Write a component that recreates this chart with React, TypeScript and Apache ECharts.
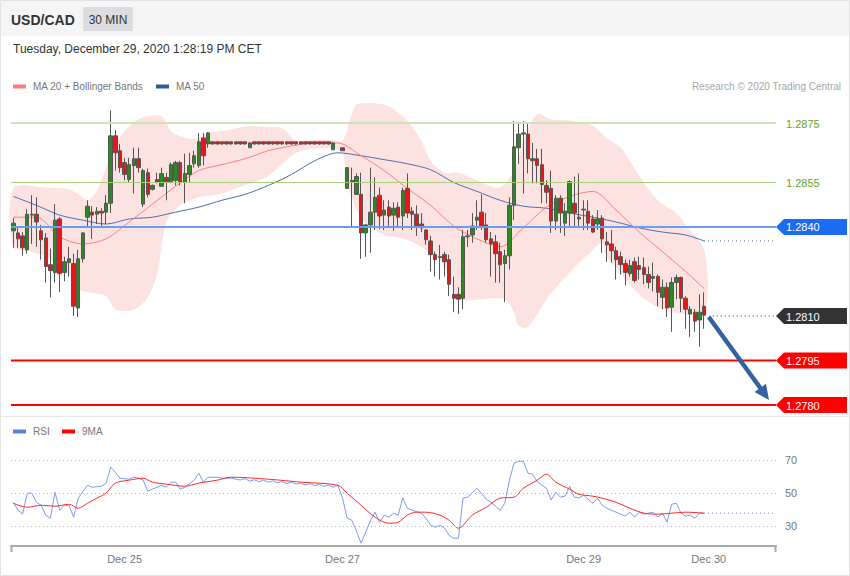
import React, { useEffect, useRef } from 'react';
import * as echarts from 'echarts';

const FONT = '"Liberation Sans", Arial, Helvetica, sans-serif';
const SLOT_COUNT = 165;
const slots = Array.from({ length: SLOT_COUNT }, (_, i) => String(i));

// Tick labels on the time axis: [slot index, text]
const dayLabels: [number, string][] = [
  [24, 'Dec 25'],
  [71, 'Dec 27'],
  [123, 'Dec 29'],
  [150, 'Dec 30'],
];

// 30 min candles: [open, close, low, high]
const candles: (number | string)[][] = [
  [1.28387, 1.28413, 1.28330, 1.28430],
  [1.28380, 1.28360, 1.28330, 1.28397],
  [1.28370, 1.28330, 1.28303, 1.28383],
  [1.28323, 1.28443, 1.28310, 1.28460],
  [1.28443, 1.28440, 1.28343, 1.28507],
  [1.28443, 1.28417, 1.28333, 1.28500],
  [1.28387, 1.28357, 1.28290, 1.28407],
  [1.28363, 1.28267, 1.28213, 1.28380],
  [1.28273, 1.28253, 1.28163, 1.28327],
  [1.28247, 1.28423, 1.28213, 1.28477],
  [1.28427, 1.28243, 1.28180, 1.28433],
  [1.28247, 1.28283, 1.28217, 1.28300],
  [1.28280, 1.28293, 1.28233, 1.28333],
  [1.28277, 1.28133, 1.28100, 1.28310],
  [1.28127, 1.28293, 1.28097, 1.28323],
  [1.28293, 1.28380, 1.28280, 1.28383],
  [1.28433, 1.28470, 1.28403, 1.28490],
  [1.28450, 1.28440, 1.28360, 1.28470],
  [1.28443, 1.28453, 1.28410, 1.28467],
  [1.28453, 1.28447, 1.28403, 1.28463],
  [1.28450, 1.28480, 1.28410, 1.28507],
  [1.28480, 1.28707, 1.28447, 1.28793],
  [1.28707, 1.28650, 1.28590, 1.28727],
  [1.28657, 1.28600, 1.28583, 1.28680],
  [1.28617, 1.28577, 1.28557, 1.28633],
  [1.28560, 1.28610, 1.28550, 1.28633],
  [1.28607, 1.28630, 1.28513, 1.28667],
  [1.28630, 1.28600, 1.28583, 1.28667],
  [1.28477, 1.28590, 1.28467, 1.28597],
  [1.28583, 1.28510, 1.28500, 1.28597],
  [1.28527, 1.28540, 1.28523, 1.28543],
  [1.28560, 1.28550, 1.28547, 1.28583],
  [1.28537, 1.28580, 1.28537, 1.28600],
  [1.28567, 1.28550, 1.28490, 1.28583],
  [1.28550, 1.28610, 1.28547, 1.28617],
  [1.28557, 1.28617, 1.28540, 1.28623],
  [1.28617, 1.28550, 1.28540, 1.28623],
  [1.28550, 1.28580, 1.28480, 1.28647],
  [1.28577, 1.28607, 1.28550, 1.28650],
  [1.28613, 1.28640, 1.28600, 1.28657],
  [1.28607, 1.28687, 1.28600, 1.28717],
  [1.28700, 1.28640, 1.28607, 1.28717],
  [1.28680, 1.28717, 1.28667, 1.28720],
  [1.28687, 1.28680, 1.28677, 1.28687],
  [1.28687, 1.28680, 1.28677, 1.28687],
  [1.28687, 1.28680, 1.28677, 1.28687],
  [1.28687, 1.28680, 1.28677, 1.28687],
  [1.28687, 1.28680, 1.28677, 1.28687],
  [1.28687, 1.28680, 1.28677, 1.28687],
  [1.28687, 1.28680, 1.28677, 1.28687],
  [1.28687, 1.28680, 1.28677, 1.28687],
  [1.28667, 1.28683, 1.28667, 1.28687],
  [1.28687, 1.28680, 1.28677, 1.28687],
  [1.28687, 1.28680, 1.28677, 1.28687],
  [1.28687, 1.28680, 1.28677, 1.28687],
  [1.28687, 1.28680, 1.28677, 1.28687],
  [1.28687, 1.28680, 1.28677, 1.28687],
  [1.28687, 1.28680, 1.28677, 1.28687],
  [1.28687, 1.28680, 1.28677, 1.28687],
  [1.28687, 1.28680, 1.28677, 1.28687],
  [1.28687, 1.28680, 1.28677, 1.28687],
  [1.28687, 1.28680, 1.28677, 1.28687],
  [1.28687, 1.28680, 1.28677, 1.28687],
  [1.28687, 1.28680, 1.28677, 1.28687],
  [1.28687, 1.28680, 1.28677, 1.28687],
  [1.28687, 1.28680, 1.28677, 1.28687],
  [1.28687, 1.28680, 1.28677, 1.28687],
  [1.28687, 1.28680, 1.28677, 1.28687],
  [1.28687, 1.28680, 1.28677, 1.28687],
  [1.28660, 1.28683, 1.28660, 1.28687],
  ['-', '-', '-', '-'],
  [1.28667, 1.28657, 1.28657, 1.28667],
  [1.28530, 1.28600, 1.28530, 1.28600],
  [1.28550, 1.28557, 1.28400, 1.28600],
  [1.28510, 1.28570, 1.28507, 1.28580],
  [1.28510, 1.28380, 1.28293, 1.28583],
  [1.28380, 1.28407, 1.28300, 1.28410],
  [1.28407, 1.28450, 1.28313, 1.28600],
  [1.28450, 1.28500, 1.28390, 1.28567],
  [1.28507, 1.28437, 1.28393, 1.28533],
  [1.28440, 1.28457, 1.28390, 1.28490],
  [1.28467, 1.28437, 1.28400, 1.28490],
  [1.28440, 1.28463, 1.28387, 1.28483],
  [1.28467, 1.28433, 1.28397, 1.28483],
  [1.28437, 1.28523, 1.28390, 1.28533],
  [1.28530, 1.28447, 1.28430, 1.28580],
  [1.28453, 1.28443, 1.28390, 1.28467],
  [1.28443, 1.28403, 1.28370, 1.28473],
  [1.28410, 1.28397, 1.28383, 1.28447],
  [1.28390, 1.28357, 1.28340, 1.28393],
  [1.28353, 1.28307, 1.28250, 1.28370],
  [1.28307, 1.28290, 1.28233, 1.28317],
  [1.28300, 1.28297, 1.28223, 1.28340],
  [1.28307, 1.28283, 1.28233, 1.28317],
  [1.28290, 1.28207, 1.28167, 1.28307],
  [1.28173, 1.28160, 1.28113, 1.28233],
  [1.28173, 1.28157, 1.28107, 1.28197],
  [1.28160, 1.28367, 1.28123, 1.28390],
  [1.28367, 1.28370, 1.28333, 1.28390],
  [1.28373, 1.28403, 1.28347, 1.28447],
  [1.28423, 1.28433, 1.28390, 1.28490],
  [1.28450, 1.28403, 1.28390, 1.28510],
  [1.28407, 1.28357, 1.28347, 1.28447],
  [1.28360, 1.28343, 1.28233, 1.28383],
  [1.28350, 1.28310, 1.28213, 1.28373],
  [1.28317, 1.28273, 1.28213, 1.28347],
  [1.28277, 1.28303, 1.28147, 1.28323],
  [1.28303, 1.28473, 1.28257, 1.28500],
  [1.28473, 1.28670, 1.28423, 1.28757],
  [1.28667, 1.28713, 1.28613, 1.28753],
  [1.28717, 1.28713, 1.28513, 1.28757],
  [1.28713, 1.28630, 1.28580, 1.28750],
  [1.28630, 1.28623, 1.28547, 1.28683],
  [1.28630, 1.28607, 1.28547, 1.28663],
  [1.28610, 1.28543, 1.28480, 1.28663],
  [1.28540, 1.28517, 1.28480, 1.28557],
  [1.28530, 1.28420, 1.28380, 1.28590],
  [1.28420, 1.28497, 1.28390, 1.28507],
  [1.28497, 1.28447, 1.28380, 1.28507],
  [1.28413, 1.28453, 1.28370, 1.28480],
  [1.28447, 1.28553, 1.28400, 1.28557],
  [1.28480, 1.28447, 1.28400, 1.28570],
  [1.28433, 1.28427, 1.28397, 1.28580],
  [1.28460, 1.28457, 1.28390, 1.28490],
  [1.28453, 1.28413, 1.28390, 1.28490],
  [1.28427, 1.28383, 1.28380, 1.28440],
  [1.28410, 1.28427, 1.28390, 1.28457],
  [1.28430, 1.28360, 1.28313, 1.28440],
  [1.28350, 1.28340, 1.28283, 1.28383],
  [1.28343, 1.28320, 1.28280, 1.28390],
  [1.28320, 1.28290, 1.28223, 1.28333],
  [1.28300, 1.28273, 1.28240, 1.28317],
  [1.28277, 1.28247, 1.28203, 1.28290],
  [1.28243, 1.28270, 1.28233, 1.28290],
  [1.28283, 1.28220, 1.28213, 1.28297],
  [1.28270, 1.28257, 1.28223, 1.28300],
  [1.28263, 1.28240, 1.28207, 1.28297],
  [1.28240, 1.28213, 1.28193, 1.28267],
  [1.28227, 1.28233, 1.28183, 1.28280],
  [1.28233, 1.28180, 1.28133, 1.28240],
  [1.28163, 1.28197, 1.28123, 1.28223],
  [1.28197, 1.28127, 1.28097, 1.28213],
  [1.28130, 1.28213, 1.28047, 1.28230],
  [1.28213, 1.28230, 1.28157, 1.28240],
  [1.28230, 1.28160, 1.28113, 1.28233],
  [1.28160, 1.28123, 1.28057, 1.28167],
  [1.28107, 1.28123, 1.28030, 1.28133],
  [1.28113, 1.28083, 1.28047, 1.28123],
  [1.28087, 1.28113, 1.27997, 1.28173],
  [1.28133, 1.28103, 1.28057, 1.28180],
];

// MA 50 (slot index, value)
const ma50: [number, number][] = [
  [0, 1.28503], [5, 1.28473], [10, 1.28440], [15, 1.28423], [20, 1.28410], [25, 1.28427],
  [30, 1.28433], [35, 1.28450], [40, 1.28467], [45, 1.28490], [50, 1.28510], [55, 1.28540],
  [60, 1.28577], [65, 1.28623], [70, 1.28650], [75, 1.28640], [80, 1.28627], [85, 1.28613],
  [90, 1.28593], [95, 1.28550], [100, 1.28520], [105, 1.28490], [110, 1.28470], [115, 1.28463],
  [120, 1.28447], [125, 1.28433], [130, 1.28417], [135, 1.28397], [140, 1.28383], [145, 1.28373],
  [149, 1.28353],
];

// MA 20 (slot index, value)
const ma20: [number, number][] = [
  [0, 1.28433], [5, 1.28433], [10, 1.28367], [15, 1.28343], [20, 1.28360], [25, 1.28417],
  [30, 1.28477], [35, 1.28537], [40, 1.28590], [45, 1.28610], [50, 1.28630], [55, 1.28657],
  [60, 1.28673], [65, 1.28683], [70, 1.28683], [75, 1.28640], [80, 1.28590], [85, 1.28530],
  [90, 1.28473], [95, 1.28403], [100, 1.28360], [105, 1.28333], [110, 1.28397], [115, 1.28467],
  [120, 1.28503], [125, 1.28520], [130, 1.28457], [135, 1.28383], [140, 1.28317], [145, 1.28250],
  [149, 1.28193],
];

// Bollinger bands (slot index, value)
const bandUpper: [number, number][] = [
  [0, 1.28530], [7, 1.28533], [12, 1.28527], [14, 1.28510], [16, 1.28490], [18, 1.28523],
  [20, 1.28600], [22, 1.28673], [24, 1.28723], [27, 1.28763], [29, 1.28773], [32, 1.28773],
  [34, 1.28723], [37, 1.28700], [40, 1.28700], [42, 1.28717], [45, 1.28723], [48, 1.28733],
  [51, 1.28740], [55, 1.28737], [58, 1.28733], [61, 1.28690], [65, 1.28693], [69, 1.28693],
  [71, 1.28690], [73, 1.28780], [74, 1.28813], [76, 1.28817], [78, 1.28817], [81, 1.28807],
  [85, 1.28757], [88, 1.28690], [90, 1.28623], [93, 1.28583], [96, 1.28583], [101, 1.28550],
  [105, 1.28533], [108, 1.28590], [110, 1.28690], [113, 1.28780], [116, 1.28763], [121, 1.28757],
  [125, 1.28740], [128, 1.28700], [131, 1.28667], [135, 1.28573], [139, 1.28490], [143, 1.28447],
  [145, 1.28407], [149, 1.28323],
];
const bandLower: [number, number][] = [
  [0, 1.28333], [4, 1.28317], [7, 1.28300], [12, 1.28240], [14, 1.28190], [16, 1.28180],
  [20, 1.28167], [22, 1.28123], [25, 1.28117], [27, 1.28130], [29, 1.28163], [31, 1.28240],
  [33, 1.28417], [36, 1.28473], [40, 1.28500], [45, 1.28513], [48, 1.28530], [55, 1.28573],
  [60, 1.28640], [63, 1.28660], [69, 1.28663], [71, 1.28650], [72, 1.28547], [75, 1.28430],
  [79, 1.28380], [85, 1.28357], [88, 1.28333], [92, 1.28290], [94, 1.28233], [96, 1.28157],
  [101, 1.28157], [106, 1.28157], [108, 1.28113], [109, 1.28067], [111, 1.28063], [115, 1.28157],
  [118, 1.28213], [121, 1.28263], [124, 1.28307], [127, 1.28347], [128, 1.28300], [130, 1.28263],
  [135, 1.28173], [139, 1.28130], [142, 1.28113], [149, 1.28113],
];

// RSI (slot index, value)
const rsi: [number, number][] = [
  [0, 44.4], [1, 39.7], [2, 37.3], [3, 50], [4, 50], [5, 44.5], [6, 42.7], [7, 36.7], [8, 34.8],
  [9, 50.6], [10, 39.7], [11, 42.7], [12, 42.7], [13, 35.5], [14, 47], [16, 54.8], [17, 53.6],
  [19, 54.2], [20, 56], [21, 65.8], [22, 62.7], [23, 59.1], [25, 58.5], [26, 59.7], [27, 59.1],
  [28, 57.9], [29, 51.2], [31, 53.6], [32, 54.8], [33, 53.6], [34, 56.7], [35, 56.7], [36, 52.4],
  [37, 53.6], [39, 57.9], [40, 62.1], [41, 56.7], [42, 59.7], [44, 59.7], [45, 59.1], [47, 59.1],
  [48, 58.5], [49, 58.0], [50, 58.8], [51, 57.3], [52, 58.1], [53, 57.0], [54, 57.8], [55, 56.7],
  [56, 57.5], [57, 56.3], [58, 57.0], [59, 55.9], [60, 56.6], [61, 55.5], [62, 56.2], [63, 55.0],
  [64, 55.8], [65, 54.6], [66, 55.4], [67, 54.2], [68, 55.0], [69, 53.6], [70, 54.8], [71, 47],
  [72, 35], [73, 33.6], [74, 27], [75, 19.7], [76, 26.4], [77, 33], [78, 38.5], [79, 32.4],
  [80, 36.7], [81, 35.5], [82, 37.9], [83, 36.7], [84, 47], [85, 40.9], [86, 39.7], [88, 37.9],
  [89, 34.8], [90, 30.6], [91, 29.4], [92, 30.6], [93, 28.8], [94, 24.5], [95, 22.7], [96, 22.7],
  [97, 47], [98, 47.6], [100, 53], [102, 46.4], [103, 44.5], [105, 39.7], [106, 43.9], [107, 57.9],
  [108, 68.2], [109, 69.4], [110, 69.4], [111, 62.1], [112, 61.5], [113, 57], [114, 54.8], [115, 53],
  [116, 45.8], [117, 50.6], [118, 47.6], [119, 48.2], [120, 54.2], [121, 47.6], [122, 47], [123, 48.8],
  [125, 43.9], [126, 47], [127, 42.7], [128, 40.9], [130, 38.5], [132, 36.1], [133, 38.5], [134, 35.5],
  [135, 38.5], [136, 37.3], [138, 38.5], [139, 35.5], [140, 37.9], [141, 32.4], [142, 43.3], [143, 43.9],
  [144, 37.9], [145, 36.1], [146, 36.7], [147, 34.8], [148, 37.9], [149, 37.9],
];

// RSI 9MA (slot index, value)
const rsiMa: [number, number][] = [
  [0, 43.9], [3, 41.5], [6, 42.7], [9, 42.1], [12, 43.3], [14, 40.9], [16, 43.9], [18, 47],
  [20, 50], [22, 56.1], [25, 57.9], [28, 59.1], [30, 56.7], [33, 55.5], [37, 54.2], [40, 56.1],
  [44, 57.9], [47, 59.7], [55, 58.5], [62, 56.7], [70, 54.8], [72, 50], [75, 42.7], [78, 35.5],
  [81, 31.8], [83, 32.4], [85, 36.7], [87, 38.5], [89, 38.5], [92, 36.7], [94, 33.6], [96, 28.8],
  [99, 36.7], [102, 41.5], [105, 47], [108, 47.6], [110, 53], [113, 57.9], [115, 61.5], [117, 56.7],
  [120, 52.4], [122, 49.4], [125, 48.2], [127, 47], [130, 44.5], [133, 40.9], [136, 37.9], [139, 37.3],
  [142, 37.9], [145, 38.5], [149, 37.9],
];

// Key levels
const resistanceLevels = [1.2875, 1.2855];
const pivotLevel = 1.284;
const lastPrice = 1.2810;
const supportLevels = [1.2795, 1.278];
const rsiLevels = [70, 50, 30];
const arrowFrom: [number, number] = [150, 1.28097];
const arrowTo: [number, number] = [163, 1.27817];

const LAST_SLOT = 149;
const END_SLOT = SLOT_COUNT - 1;
const PLOT_LEFT = 11;
const PLOT_RIGHT = 776;

export default function App() {
  const ref = useRef<HTMLDivElement>(null);

  useEffect(() => {
    if (!ref.current) return;
    const chart = echarts.init(ref.current, null, { renderer: 'svg' });
    const labelMap: Record<number, string> = {};
    dayLabels.forEach(([i, t]) => (labelMap[i] = t));

    const option: any = {
      animation: false,
      backgroundColor: '#ffffff',
      textStyle: { fontFamily: FONT },
      grid: [
        { left: PLOT_LEFT, width: PLOT_RIGHT - PLOT_LEFT, top: 100, height: 315 },
        { left: PLOT_LEFT, width: PLOT_RIGHT - PLOT_LEFT, top: 443.7, height: 102.3 },
      ],
      xAxis: [
        { type: 'category', gridIndex: 0, data: slots, boundaryGap: true, show: false },
        {
          type: 'category',
          gridIndex: 1,
          data: slots,
          boundaryGap: true,
          axisLine: { show: true, lineStyle: { color: '#a9a9a9', width: 2 } },
          axisTick: { show: false },
          splitLine: { show: false },
          axisLabel: {
            interval: (i: number) => labelMap[i] !== undefined,
            formatter: (_v: string, i: number) => labelMap[i] || '',
            color: '#777',
            fontSize: 11,
            margin: 7,
            fontFamily: FONT,
          },
        },
      ],
      yAxis: [
        { type: 'value', gridIndex: 0, min: 1.277667, max: 1.288278, show: false },
        { type: 'value', gridIndex: 1, min: 18, max: 80, show: false },
      ],
      series: [
        {
          type: 'custom',
          name: 'bands',
          xAxisIndex: 0,
          yAxisIndex: 0,
          z: 1,
          silent: true,
          data: [0],
          renderItem: (_p: any, api: any) => {
            const pts: number[][] = [];
            bandUpper.forEach(([i, v]) => pts.push(api.coord([i, v])));
            [...bandLower].reverse().forEach(([i, v]) => pts.push(api.coord([i, v])));
            return {
              type: 'polygon',
              shape: { points: pts, smooth: 0.3 },
              style: { fill: '#fde2e2' },
            };
          },
        },
        {
          type: 'line',
          name: 'MA 50',
          xAxisIndex: 0,
          yAxisIndex: 0,
          data: ma50,
          smooth: 0.3,
          symbol: 'none',
          z: 2,
          lineStyle: { color: '#4e6fa8', width: 1 },
        },
        {
          type: 'line',
          name: 'MA 20',
          xAxisIndex: 0,
          yAxisIndex: 0,
          data: ma20,
          smooth: 0.3,
          symbol: 'none',
          z: 2,
          lineStyle: { color: '#ff7d7d', width: 1 },
        },
        {
          type: 'candlestick',
          name: 'USD/CAD',
          xAxisIndex: 0,
          yAxisIndex: 0,
          data: candles,
          barWidth: 4,
          z: 3,
          itemStyle: {
            color: '#2a8a1f',
            color0: '#ec1515',
            borderColor: '#555555',
            borderColor0: '#555555',
            borderWidth: 1,
          },
        },
        {
          type: 'line',
          name: 'ma50-ext',
          xAxisIndex: 0,
          yAxisIndex: 0,
          data: [
            [LAST_SLOT, ma50[ma50.length - 1][1]],
            [END_SLOT, ma50[ma50.length - 1][1]],
          ],
          symbol: 'none',
          z: 4,
          lineStyle: { color: '#3c5a94', width: 1, type: [1, 3] },
        },
        {
          type: 'line',
          name: 'last-ext',
          xAxisIndex: 0,
          yAxisIndex: 0,
          data: [
            [LAST_SLOT + 1, lastPrice],
            [END_SLOT, lastPrice],
          ],
          symbol: 'none',
          z: 5,
          lineStyle: { color: '#333333', width: 1, type: [1, 3] },
        },
        {
          type: 'line',
          name: 'RSI',
          xAxisIndex: 1,
          yAxisIndex: 1,
          data: rsi,
          symbol: 'none',
          z: 3,
          lineStyle: { color: '#7d9bef', width: 1 },
          markLine: {
            silent: true,
            symbol: ['none', 'none'],
            lineStyle: { color: '#b5b5b5', width: 1, type: [1, 3] },
            label: { show: true, position: 'end', distance: 9, formatter: '{c}', color: '#777', fontSize: 11, fontFamily: FONT },
            data: rsiLevels.map((v) => ({ yAxis: v })),
          },
        },
        {
          type: 'line',
          name: 'rsi-ext',
          xAxisIndex: 1,
          yAxisIndex: 1,
          data: [
            [LAST_SLOT, rsi[rsi.length - 1][1]],
            [END_SLOT, rsi[rsi.length - 1][1]],
          ],
          symbol: 'none',
          z: 3,
          lineStyle: { color: '#5b7de0', width: 1, type: [1, 3] },
        },
        {
          type: 'line',
          name: '9MA',
          xAxisIndex: 1,
          yAxisIndex: 1,
          data: rsiMa,
          smooth: 0.3,
          symbol: 'none',
          z: 4,
          lineStyle: { color: '#ff2a2a', width: 1 },
        },
      ],
    };

    chart.setOption(option);

    const txt = (x: number, y: number, text: string, size: number, fill: string, opts: any = {}) => ({
      type: 'text',
      x,
      y,
      z: 100,
      silent: true,
      style: {
        text,
        fill,
        font: `${opts.weight || 'normal'} ${size}px ${FONT}`,
        textAlign: opts.align || 'left',
        align: opts.align || 'left',
        textVerticalAlign: 'middle',
        verticalAlign: 'middle',
      },
    });

    const graphics: any[] = [
      { type: 'rect', z: 0, silent: true, shape: { x: 0.5, y: 0.5, width: 849, height: 575 }, style: { fill: 'none', stroke: '#e2e2e2', lineWidth: 1 } },
      { type: 'rect', z: 0, silent: true, shape: { x: 1, y: 1, width: 848, height: 35 }, style: { fill: '#f5f5f5' } },
      txt(11, 19.5, 'USD/CAD', 14, '#333333', { weight: 'bold' }),
      { type: 'rect', z: 1, silent: true, shape: { x: 83, y: 7, width: 50, height: 24 }, style: { fill: '#dcdde1' } },
      txt(108, 19.5, '30 MIN', 12, '#333333', { align: 'center' }),
      txt(13, 49, 'Tuesday, December 29, 2020 1:28:19 PM CET', 12, '#333333'),
      { type: 'rect', z: 1, silent: true, shape: { x: 13, y: 84.5, width: 13, height: 4 }, style: { fill: '#ff7b7b' } },
      txt(33, 86.5, 'MA 20 + Bollinger Bands', 10, '#777777'),
      { type: 'rect', z: 1, silent: true, shape: { x: 156, y: 84.5, width: 13, height: 4 }, style: { fill: '#2f5a9c' } },
      txt(176, 86.5, 'MA 50', 10, '#777777'),
      txt(841, 86.5, 'Research © 2020 Trading Central', 10, '#a8a8a8', { align: 'right' }),
      { type: 'line', z: 1, silent: true, shape: { x1: 1, y1: 416.5, x2: 849, y2: 416.5 }, style: { stroke: '#e6e6e6', lineWidth: 1 } },
      { type: 'rect', z: 1, silent: true, shape: { x: 13, y: 429.5, width: 13, height: 4 }, style: { fill: '#5b7fe0' } },
      txt(33, 431.5, 'RSI', 10, '#777777'),
      { type: 'rect', z: 1, silent: true, shape: { x: 62, y: 429.5, width: 13, height: 4 }, style: { fill: '#ff0000' } },
      txt(82, 431.5, '9MA', 10, '#777777'),
      { type: 'line', z: 10, silent: true, shape: { x1: 11.5, y1: 546, x2: 11.5, y2: 552 }, style: { stroke: '#a9a9a9', lineWidth: 2 } },
      { type: 'line', z: 10, silent: true, shape: { x1: 775.5, y1: 546, x2: 775.5, y2: 552 }, style: { stroke: '#a9a9a9', lineWidth: 2 } },
    ];

    const yOf = (v: number) => chart.convertToPixel({ yAxisIndex: 0 }, v) as number;

    // Horizontal key levels
    const levels = [
      { value: resistanceLevels[0], color: '#cce4b8', width: 2 },
      { value: resistanceLevels[1], color: '#a3d276', width: 1 },
      { value: pivotLevel, color: '#6c9cf0', width: 2 },
      { value: supportLevels[0], color: '#ff0000', width: 2 },
      { value: supportLevels[1], color: '#ff0000', width: 2 },
    ];
    levels.forEach((l) => {
      const y = yOf(l.value);
      graphics.push({
        type: 'line',
        z: 40,
        silent: true,
        shape: { x1: PLOT_LEFT, y1: y, x2: PLOT_RIGHT, y2: y },
        style: { stroke: l.color, lineWidth: l.width },
      });
    });
    resistanceLevels.forEach((v) => {
      graphics.push(txt(786, yOf(v) + 0.5, v.toFixed(4), 11, '#5fa52b'));
    });

    const tags = [
      { value: pivotLevel, bg: '#1b6cf2' },
      { value: lastPrice, bg: '#333333' },
      { value: supportLevels[0], bg: '#ff0000' },
      { value: supportLevels[1], bg: '#ff0000' },
    ];
    tags.forEach((t) => {
      const y = yOf(t.value);
      graphics.push({
        type: 'polygon',
        z: 50,
        silent: true,
        shape: { points: [[776, y], [784, y - 8], [847, y - 8], [847, y + 8], [784, y + 8]] },
        style: { fill: t.bg },
      });
      graphics.push(txt(786, y + 0.5, t.value.toFixed(4), 11, '#ffffff'));
    });

    const p0 = chart.convertToPixel({ xAxisIndex: 0, yAxisIndex: 0 }, arrowFrom) as number[];
    const p1 = chart.convertToPixel({ xAxisIndex: 0, yAxisIndex: 0 }, arrowTo) as number[];
    const dx = p1[0] - p0[0];
    const dy = p1[1] - p0[1];
    const len = Math.sqrt(dx * dx + dy * dy);
    const ux = dx / len;
    const uy = dy / len;
    const headLen = 15;
    const headHalf = 7;
    const bx = p1[0] - ux * headLen;
    const by = p1[1] - uy * headLen;
    graphics.push({
      type: 'line',
      z: 60,
      silent: true,
      shape: { x1: p0[0], y1: p0[1], x2: bx + ux * 2, y2: by + uy * 2 },
      style: { stroke: '#34619f', lineWidth: 4.5 },
    });
    graphics.push({
      type: 'polygon',
      z: 60,
      silent: true,
      shape: {
        points: [
          [p1[0], p1[1]],
          [bx - uy * headHalf, by + ux * headHalf],
          [bx + uy * headHalf, by - ux * headHalf],
        ],
      },
      style: { fill: '#34619f' },
    });

    chart.setOption({ graphic: { elements: graphics } });

    return () => {
      chart.dispose();
    };
  }, []);

  return (
    <div
      ref={ref}
      style={{ position: 'absolute', left: 0, top: 0, width: 850, height: 576, background: '#ffffff' }}
    />
  );
}
